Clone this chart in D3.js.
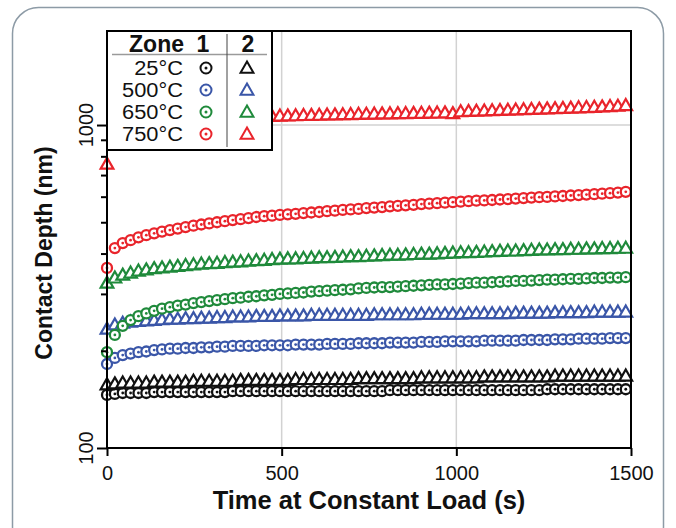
<!DOCTYPE html>
<html lang="en">
<head>
  <meta charset="UTF-8" />
  <title>Contact Depth vs Time at Constant Load</title>
  <script src="https://d3js.org/d3.v7.min.js"></script>
  <style>
    body {
      margin: 0;
      background: #fff;
    }
    svg {
      display: block;
      font-family: "Liberation Sans", Arial, sans-serif;
    }
  </style>
</head>
<body>
  <svg width="676" height="528"></svg>

  <script>
    // hold time (s)
    const timeS = [0, 22.5, 45, 67.5, 90, 112.5, 135, 157.5, 180, 202.5, 225, 247.5, 270, 292.5, 315, 337.5,
      360, 382.5, 405, 427.5, 450, 472.5, 495, 517.5, 540, 562.5, 585, 607.5, 630, 652.5, 675, 697.5,
      720, 742.5, 765, 787.5, 810, 832.5, 855, 877.5, 900, 922.5, 945, 967.5, 990, 1012.5, 1035, 1057.5,
      1080, 1102.5, 1125, 1147.5, 1170, 1192.5, 1215, 1237.5, 1260, 1282.5, 1305, 1327.5, 1350, 1372.5,
      1395, 1417.5, 1440, 1462.5, 1485];

    // contact depth (nm), zone 1 = circles, zone 2 = triangles
    const depth25Z1 = [146, 147, 148, 148, 148, 148, 149, 149, 149, 149, 149, 149, 149, 149, 149, 149,
      150, 150, 150, 150, 150, 150, 150, 150, 150, 150, 150, 150, 150, 150, 150, 150, 150, 150, 150, 150,
      151, 151, 151, 151, 151, 151, 151, 151, 151, 151, 151, 151, 151, 151, 151, 151, 151, 151, 151, 151,
      152, 152, 152, 152, 152, 152, 152, 152, 152, 152, 152];
    const depth25Z2 = [156, 157, 158, 158, 158, 158, 159, 159, 159, 159, 159, 160, 160, 160, 160, 160,
      160, 161, 161, 161, 161, 161, 161, 161, 162, 162, 162, 162, 162, 162, 162, 162, 163, 163, 163, 163,
      163, 163, 163, 163, 164, 164, 164, 164, 164, 164, 164, 164, 165, 165, 165, 165, 165, 165, 165, 165,
      165, 166, 166, 166, 166, 166, 166, 166, 166, 166, 166];
    const depth500Z1 = [182, 190, 194, 196, 198, 199, 201, 202, 203, 203, 204, 204, 205, 205, 206, 206,
      207, 207, 207, 207, 208, 208, 208, 208, 209, 209, 209, 209, 210, 210, 210, 210, 211, 211, 211, 211,
      212, 212, 212, 212, 213, 213, 213, 214, 214, 214, 214, 214, 215, 215, 215, 215, 215, 216, 216, 216,
      216, 217, 217, 217, 218, 218, 218, 218, 219, 219, 219];
    const depth500Z2 = [232, 239, 242, 244, 245, 246, 247, 248, 249, 249, 250, 250, 251, 251, 252, 252,
      253, 253, 253, 254, 254, 254, 255, 255, 255, 255, 256, 256, 256, 256, 256, 256, 256, 256, 257, 257,
      257, 257, 257, 257, 258, 258, 258, 258, 258, 258, 259, 259, 259, 259, 259, 259, 260, 260, 260, 260,
      260, 261, 261, 261, 261, 261, 262, 262, 262, 262, 262];
    const depth650Z1 = [198, 224, 239, 249, 256, 261, 266, 270, 273, 276, 278, 281, 283, 285, 287, 289,
      291, 292, 294, 295, 297, 298, 300, 301, 302, 303, 305, 306, 307, 308, 309, 310, 312, 313, 314, 315,
      315, 316, 317, 318, 319, 320, 321, 321, 322, 323, 324, 325, 325, 326, 327, 328, 329, 329, 330, 331,
      332, 332, 333, 334, 334, 335, 336, 336, 337, 337, 338];
    const depth650Z2 = [322, 334, 341, 346, 351, 354, 357, 359, 361, 363, 365, 367, 369, 370, 371, 373,
      374, 375, 377, 378, 379, 381, 382, 383, 383, 384, 385, 386, 386, 387, 388, 389, 389, 390, 391, 392,
      393, 393, 394, 395, 396, 396, 397, 398, 399, 400, 400, 401, 402, 403, 404, 405, 405, 406, 407, 408,
      408, 409, 409, 410, 410, 411, 411, 412, 412, 413, 413];
    const depth750Z1 = [361, 416, 431, 440, 449, 456, 462, 468, 473, 478, 483, 488, 492, 496, 500, 504,
      508, 511, 515, 519, 522, 524, 527, 529, 531, 534, 536, 538, 541, 543, 546, 548, 550, 553, 555, 557,
      560, 562, 564, 566, 569, 571, 573, 575, 577, 579, 581, 583, 584, 586, 588, 590, 592, 594, 596, 598,
      599, 601, 603, 605, 607, 609, 611, 613, 615, 618, 621];
    const depth750Z2 = [752, 1000, 1008, 1013, 1017, 1021, 1024, 1027, 1030, 1033, 1035, 1038, 1040, 1042, 1044, 1046,
      1048, 1050, 1052, 1054, 1056, 1058, 1060, 1061, 1062, 1064, 1065, 1066, 1068, 1069, 1070, 1071,
      1073, 1074, 1075, 1076, 1077, 1078, 1079, 1080, 1081, 1082, 1083, 1084, 1078, 1093, 1095, 1097,
      1099, 1101, 1103, 1105, 1107, 1109, 1111, 1113, 1115, 1117, 1119, 1121, 1124, 1126, 1128, 1131,
      1134, 1137, 1142];

    const tempLabels = ["25°C", "500°C", "650°C", "750°C"];
    const tempColors = ["#111111", "#3a56a8", "#1f8a3b", "#e9242b"];
    const xTicks = [0, 500, 1000, 1500];
    const yTicks = [100, 200, 300, 400, 500, 600, 700, 800, 900, 1000];
    const yLabels = [100, 1000];

    const series = [
      { color: tempColors[0], zone: 1, values: depth25Z1 },
      { color: tempColors[0], zone: 2, values: depth25Z2 },
      { color: tempColors[1], zone: 1, values: depth500Z1 },
      { color: tempColors[1], zone: 2, values: depth500Z2 },
      { color: tempColors[2], zone: 1, values: depth650Z1 },
      { color: tempColors[2], zone: 2, values: depth650Z2 },
      { color: tempColors[3], zone: 1, values: depth750Z1 },
      { color: tempColors[3], zone: 2, values: depth750Z2 }
    ];

    const svg = d3.select("svg"),
          margin = { top: 31, right: 45, bottom: 80, left: 107 },
          width = +svg.attr("width") - margin.left - margin.right,
          height = +svg.attr("height") - margin.top - margin.bottom;

    // rounded panel border
    svg.append("rect")
      .attr("x", 12.5).attr("y", 7.5)
      .attr("width", 651).attr("height", 545)
      .attr("rx", 26)
      .attr("fill", "none")
      .attr("stroke", "#8d9ba6")
      .attr("stroke-width", 1.5);

    const g = svg.append("g").attr("transform", `translate(${margin.left},${margin.top})`);

    const x = d3.scaleLinear().domain([0, 1500]).range([0, width]);
    const y = d3.scaleLog().domain([100, 1955]).range([height, 0]);

    // grid
    g.selectAll(".vgrid")
      .data([500, 1000])
      .join("line")
      .attr("x1", d => x(d)).attr("x2", d => x(d))
      .attr("y1", 0).attr("y2", height)
      .attr("stroke", "#d2d2d2")
      .attr("stroke-width", 1.5);

    g.append("line")
      .attr("x1", 0).attr("x2", width)
      .attr("y1", y(1000)).attr("y2", y(1000))
      .attr("stroke", "#d2d2d2")
      .attr("stroke-width", 1.5);

    // markers
    const triangle = d3.symbol(d3.symbolTriangle, 70);

    series.forEach(s => {
      const pts = timeS.map((t, i) => ({ t, v: s.values[i] }));
      const sg = g.append("g");
      const pt = sg.selectAll("g")
        .data(pts)
        .join("g")
        .attr("transform", d => `translate(${x(d.t)},${y(d.v)})`);

      if (s.zone === 1) {
        pt.append("circle")
          .attr("r", 5)
          .attr("fill", "#fff")
          .attr("stroke", s.color)
          .attr("stroke-width", 2.3);
        pt.append("circle")
          .attr("r", 1.4)
          .attr("fill", s.color);
      } else {
        pt.append("path")
          .attr("d", triangle)
          .attr("fill", "#fff")
          .attr("stroke", s.color)
          .attr("stroke-width", 2.2);
      }
    });

    // frame
    g.append("rect")
      .attr("width", width).attr("height", height)
      .attr("fill", "none")
      .attr("stroke", "#000")
      .attr("stroke-width", 2);

    // y axis
    const yAxis = g.append("g")
      .call(d3.axisLeft(y).tickValues(yTicks).tickSize(6).tickFormat(""));
    yAxis.select(".domain").remove();
    yAxis.selectAll(".tick line")
      .attr("x2", d => yLabels.includes(d) ? -10 : -6)
      .attr("stroke-width", 2);

    g.selectAll(".ylab")
      .data(yLabels)
      .join("text")
      .attr("transform", d => `translate(-14,${y(d)}) rotate(-90)`)
      .attr("text-anchor", "middle")
      .attr("font-size", 20)
      .attr("fill", "#111")
      .text(d => d);

    // x axis
    const xAxis = g.append("g")
      .attr("transform", `translate(0,${height})`)
      .call(d3.axisBottom(x).tickValues(xTicks).tickSize(8).tickFormat(d3.format("d")));
    xAxis.select(".domain").remove();
    xAxis.selectAll(".tick line").attr("stroke-width", 2);
    xAxis.selectAll("text")
      .attr("y", 32).attr("dy", 0)
      .attr("font-size", 20)
      .attr("font-family", "Liberation Sans, Arial, sans-serif")
      .attr("fill", "#111");

    // titles
    svg.append("text")
      .attr("x", margin.left + width / 2)
      .attr("y", 509)
      .attr("text-anchor", "middle")
      .attr("font-weight", "bold")
      .attr("font-size", 25.5)
      .attr("fill", "#111")
      .text("Time at Constant Load (s)");

    svg.append("text")
      .attr("transform", "translate(52,253) rotate(-90)")
      .attr("text-anchor", "middle")
      .attr("font-weight", "bold")
      .attr("font-size", 23)
      .attr("fill", "#111")
      .text("Contact Depth (nm)");

    // legend
    const legend = g.append("g");
    legend.append("rect")
      .attr("width", 165).attr("height", 119)
      .attr("fill", "#fff")
      .attr("stroke", "#000")
      .attr("stroke-width", 2);

    legend.append("line")
      .attr("x1", 5).attr("x2", 160)
      .attr("y1", 23.5).attr("y2", 23.5)
      .attr("stroke", "#9a9a9a").attr("stroke-width", 1.5);
    legend.append("line")
      .attr("x1", 120).attr("x2", 120)
      .attr("y1", 3).attr("y2", 116)
      .attr("stroke", "#444").attr("stroke-width", 1);

    const head = legend.append("g")
      .attr("font-weight", "bold").attr("font-size", 23).attr("fill", "#111");
    head.append("text").attr("x", 77).attr("y", 21).attr("text-anchor", "end").text("Zone");
    head.append("text").attr("x", 96).attr("y", 21).attr("text-anchor", "middle").text("1");
    head.append("text").attr("x", 141).attr("y", 21).attr("text-anchor", "middle").text("2");

    const row = legend.selectAll(".row")
      .data(tempLabels)
      .join("g")
      .attr("transform", (d, i) => `translate(0,${44 + i * 22})`);

    row.append("text")
      .attr("transform", "translate(76,0) scale(1.12,1)")
      .attr("text-anchor", "end")
      .attr("font-size", 19.5)
      .attr("fill", "#111")
      .text(d => d);

    row.append("circle")
      .attr("cx", 99).attr("cy", -7)
      .attr("r", 5.5)
      .attr("fill", "#fff")
      .attr("stroke", (d, i) => tempColors[i])
      .attr("stroke-width", 2);
    row.append("circle")
      .attr("cx", 99).attr("cy", -7)
      .attr("r", 1.5)
      .attr("fill", (d, i) => tempColors[i]);

    row.append("path")
      .attr("transform", "translate(140,-6)")
      .attr("d", d3.symbol(d3.symbolTriangle, 72))
      .attr("fill", "#fff")
      .attr("stroke", (d, i) => tempColors[i])
      .attr("stroke-width", 2);
  </script>
</body>
</html>
